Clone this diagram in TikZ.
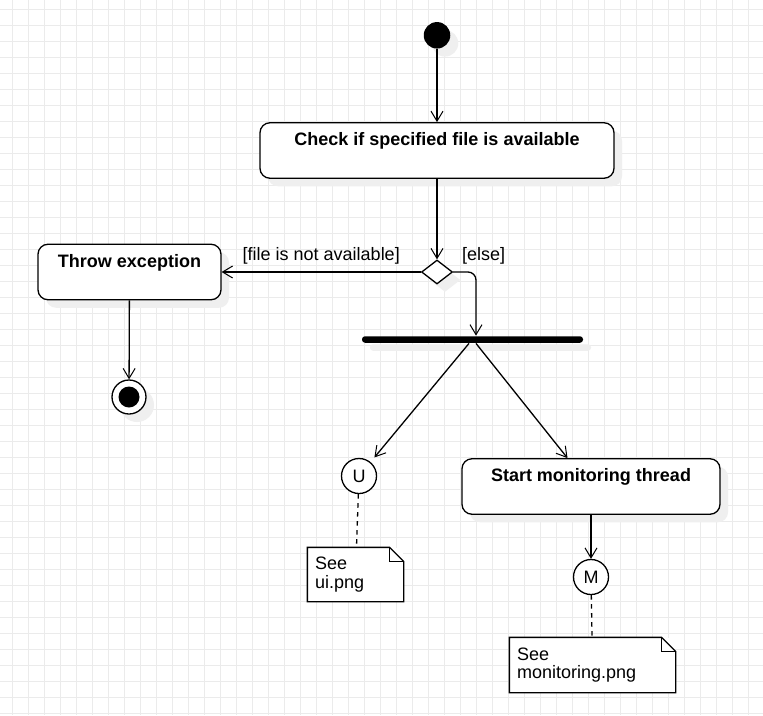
\documentclass[tikz,border=0pt]{standalone}
\usepackage{fontspec}
\setmainfont{Liberation Sans}
\usetikzlibrary{arrows.meta, positioning, shapes.geometric, shadows}
\definecolor{gridgray}{HTML}{EBEBEB}
\definecolor{shadowgray}{HTML}{EFEFEF}

\begin{document}
\begin{tikzpicture}[x=1pt, y=-1pt, >={Straight Barb[length=10pt, width=12pt, line width=1pt]}, line width=1.3pt,
  font=\fontsize{18}{18.5}\selectfont,
  gridline/.style={draw=gridgray, line width=1pt},
  dropshade/.style={drop shadow={shadow xshift=8pt, shadow yshift=-8pt, fill=shadowgray, opacity=1}},
  actbox/.style={draw, fill=white, rounded corners=10pt, inner sep=5pt, text height=18pt, text depth=27.5pt, font=\fontsize{18}{18.5}\selectfont\bfseries, dropshade},
  conn/.style={draw, circle, fill=white, minimum size=35pt, inner sep=0pt},
  notebox/.style={fill=white, align=left, inner xsep=7pt},
  notelink/.style={dash pattern=on 4.5pt off 4.5pt}]
  \useasboundingbox (0,0) rectangle (763,715);
  \fill[white] (0,0) rectangle (763,715);

  % Mřížka
  \foreach \gx in {0,...,46} \draw[gridline] ({12.3+16*\gx},0) -- ({12.3+16*\gx},715);
  \foreach \gy in {0,...,44} \draw[gridline] (0,{9.3+16*\gy}) -- (763,{9.3+16*\gy});

  % Uzly
  \node[circle, fill=black, minimum size=26.5pt, inner sep=0pt, dropshade] (start) at (437,35.3) {};
  \node[actbox, minimum width=354pt] (chk) at (437,150.5) {Check if specified file is available};
  \node[diamond, draw, fill=white, minimum width=31pt, minimum height=24pt, inner sep=0pt, dropshade] (dec) at (437,272) {};
  \node[actbox, minimum width=183pt] (thr) at (129.5,272) {Throw exception};
  \node[draw, circle, fill=white, minimum size=34pt, inner sep=0pt, dropshade] (final) at (129,397) {};
  \node[circle, fill=black, minimum size=21pt, inner sep=0pt] (finaldot) at (final) {};
  \node[fill=black, minimum width=221pt, minimum height=6.5pt, inner sep=0pt, rounded corners=3pt, dropshade] (fork) at (472.5,339.5) {};
  \node[conn] (ucon) at (359,476) {U};
  \node[actbox, minimum width=258pt] (mon) at (591,486.5) {Start monitoring thread};
  \node[conn] (mcon) at (591,577) {M};

  % Poznámky
  \node[notebox, minimum width=95pt, minimum height=53pt, text width=81pt] (uinote) at (355.5,574.5) {See\\ui.png};
  \node[notebox, minimum width=165pt, minimum height=54pt, text width=151pt] (monnote) at (592.5,665) {See\\monitoring.png};
  \foreach \n in {uinote, monnote} {
    \draw (\n.south west) -- (\n.north west) -- ([xshift=-14pt]\n.north east) -- ([yshift=-14pt]\n.north east) -- (\n.south east) -- cycle;
    \draw ([xshift=-14pt]\n.north east) |- ([yshift=-14pt]\n.north east);
  }

  % Přechody
  \draw[->] (start) -- (chk);
  \draw[->] (chk) -- (dec);
  \draw[->] (dec.west) -- (thr.east) node[midway, above=4pt] (lblnot) {[file is not available]};
  \draw[->] (thr) -- (final);
  \draw[->, rounded corners=8pt] (dec.east) node[anchor=south west, xshift=5pt, yshift=4pt] (lblelse) {[else]} -| ([xshift=3.5pt]fork.north);
  \draw[->, shorten >=6pt] ([xshift=-3.5pt]fork.south) -- (ucon);
  \draw[->] ([xshift=3.5pt]fork.south) -- ([xshift=-23.5pt]mon.north);
  \draw[->] (mon) -- (mcon);
  \draw[notelink] (ucon) -- (uinote);
  \draw[notelink] (mcon) -- (monnote);
\end{tikzpicture}
\end{document}
